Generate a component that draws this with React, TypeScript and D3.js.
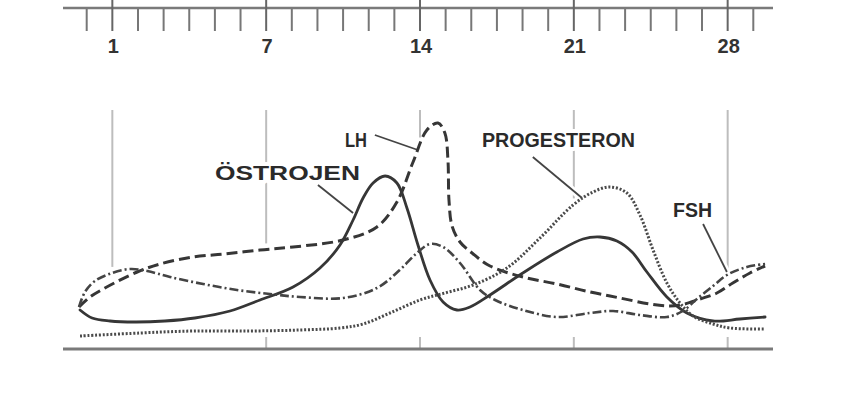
import React from 'react';
import * as d3 from 'd3';

// Ruler (tick index units) and labels
const rulerTicks = d3.range(0, 27);
const majorTicks = [1, 7, 13, 19, 25];
const majorLabels = ['1', '7', '14', '21', '28'];
const gridBottomTick = [false, true, true, true, true];

// Series: [ruler position, level]
const ostrojen: [number, number][] = [
  [-0.26, 39], [0.21, 31], [0.91, 28], [1.88, 27], [3.05, 28], [4.22, 31], [5.59, 38],
  [6.76, 49], [8.05, 62], [9.1, 81], [9.88, 104], [10.39, 129], [10.78, 151], [11.17, 166],
  [11.64, 173], [12.1, 166], [12.49, 141], [12.92, 104], [13.39, 69], [13.9, 47], [14.44, 39],
  [14.95, 42], [15.73, 54], [17.01, 76], [18.34, 97], [19.36, 110], [20.02, 112], [20.68, 108],
  [21.27, 97], [21.85, 77], [22.63, 52], [23.41, 36], [24.43, 28], [25.48, 30], [26.46, 32],
];
const lh: [number, number][] = [
  [-0.3, 42], [0.13, 52], [0.64, 60], [1.97, 77], [2.86, 85], [4.15, 92], [5.4, 95],
  [6.76, 99], [8.05, 102], [10.0, 109], [11.32, 122], [12.1, 147], [12.73, 187], [13.27, 219],
  [13.7, 226], [13.97, 216], [14.09, 189], [14.13, 149], [14.25, 123], [14.56, 107], [15.03, 96],
  [15.73, 83], [17.01, 72], [18.34, 65], [19.63, 57], [20.8, 51], [21.97, 45], [22.75, 43],
  [23.33, 45], [23.92, 50], [24.58, 56], [25.2, 66], [25.87, 76], [26.46, 83],
];
const fsh: [number, number][] = [
  [-0.3, 42], [-0.07, 57], [0.32, 68], [0.99, 76], [1.69, 80], [2.36, 78], [3.25, 72],
  [4.54, 65], [5.86, 59], [7.15, 55], [8.32, 52], [10.0, 51], [11.32, 61], [12.21, 79],
  [12.88, 96], [13.39, 105], [13.9, 102], [14.56, 86], [15.34, 59], [15.93, 49], [17.01, 39],
  [18.34, 32], [19.63, 36], [20.53, 38], [21.58, 34], [22.63, 32], [23.25, 38], [23.8, 50],
  [24.43, 63], [24.97, 74], [25.75, 82], [26.46, 85],
];
const progesteron: [number, number][] = [
  [-0.26, 13], [2.08, 16], [4.15, 18], [6.37, 18], [8.32, 19], [9.88, 21], [10.78, 25],
  [11.83, 36], [13.0, 49], [13.97, 56], [15.07, 64], [16.39, 81], [17.68, 111], [18.97, 144],
  [19.75, 157], [20.41, 162], [21.07, 156], [21.58, 134], [22.09, 99], [22.63, 66], [23.14, 46],
  [23.65, 33], [24.43, 25], [25.09, 21], [26.46, 20],
];

const labelNames = ['LH', 'ÖSTROJEN', 'PROGESTERON', 'FSH'];

const W = 860;
const H = 412;
const x = d3.scaleLinear().domain([0, 26]).range([86.7, 753.3]);
const y = d3.scaleLinear().domain([0, 240]).range([349, 109]);

const curve = d3.curveCatmullRom.alpha(0.5);
const line = d3
  .line<[number, number]>()
  .x((d) => x(d[0]))
  .y((d) => y(d[1]))
  .curve(curve);

// Flatten the same curve into a polyline to find where grid lines meet the curves
class Sampler {
  pts: [number, number][] = [];
  cx = 0;
  cy = 0;
  moveTo(a: number, b: number) {
    this.pts.push([a, b]);
    this.cx = a;
    this.cy = b;
  }
  lineTo(a: number, b: number) {
    this.pts.push([a, b]);
    this.cx = a;
    this.cy = b;
  }
  bezierCurveTo(x1: number, y1: number, x2: number, y2: number, a: number, b: number) {
    const x0 = this.cx, y0 = this.cy;
    for (let i = 1; i <= 30; i++) {
      const t = i / 30, u = 1 - t;
      this.pts.push([
        u * u * u * x0 + 3 * u * u * t * x1 + 3 * u * t * t * x2 + t * t * t * a,
        u * u * u * y0 + 3 * u * u * t * y1 + 3 * u * t * t * y2 + t * t * t * b,
      ]);
    }
    this.cx = a;
    this.cy = b;
  }
  closePath() {}
}

function polyline(data: [number, number][]) {
  const s = new Sampler();
  d3.line<[number, number]>()
    .x((d) => x(d[0]))
    .y((d) => y(d[1]))
    .curve(curve)
    .context(s as any)(data);
  return s.pts;
}

const INK = '#363636';
const GRID = '#bdbdbd';
const RULE = '#7a7a7a';
const FONT = '"Liberation Sans", Arial, Helvetica, sans-serif';

export default function App() {
  const series = [
    { data: ostrojen, dash: undefined, width: 2.8, color: INK, cap: 'round' },
    { data: lh, dash: '11 5', width: 3, color: INK, cap: 'butt' },
    { data: fsh, dash: '9 3 2 3', width: 2.6, color: '#444', cap: 'butt' },
    { data: progesteron, dash: '2 1.8', width: 3, color: '#4a4a4a', cap: 'butt' },
  ];

  const polys = series.map((s) => polyline(s.data));
  const segs = majorTicks.map((t, i) => {
    const X = x(t);
    const ys: number[] = [];
    polys.forEach((pts) => {
      for (let k = 1; k < pts.length; k++) {
        const p = pts[k - 1], q = pts[k];
        if ((p[0] - X) * (q[0] - X) <= 0 && p[0] !== q[0]) {
          const u = (X - p[0]) / (q[0] - p[0]);
          ys.push(p[1] + u * (q[1] - p[1]));
        }
      }
    });
    const mn = ys.length ? Math.min(...ys) : y(0);
    return {
      x: X,
      top: [110, mn - 6] as [number, number],
      bottom: gridBottomTick[i] ? ([y(0) - 12, y(0)] as [number, number]) : null,
    };
  });

  // annotation anchors in data units
  const ann = [
    { name: labelNames[0], tx: 10.5, tv: 202, len: 22, l: [11.24, 214, 12.92, 199] },
    { name: labelNames[1], tx: 7.83, tv: 169, len: 145, l: [9.02, 164, 10.39, 136] },
    { name: labelNames[2], tx: 18.4, tv: 202, len: 153, l: [17.4, 192, 19.32, 151] },
    { name: labelNames[3], tx: 23.63, tv: 132, len: 39, l: [24.04, 125, 24.97, 77] },
  ];

  return (
    <svg
      width={W}
      height={H}
      viewBox={`0 0 ${W} ${H}`}
      style={{ position: 'absolute', left: 0, top: 0, background: '#fff' }}
    >
      <rect width={W} height={H} fill="#fff" />
      {/* ruler */}
      <line x1={63} x2={773} y1={8} y2={8} stroke={RULE} strokeWidth={2.5} />
      {rulerTicks.map((t) => {
        const major = majorTicks.includes(t);
        return (
          <line
            key={t}
            x1={x(t)}
            x2={x(t)}
            y1={major ? 0 : 9}
            y2={31}
            stroke={major ? '#666' : '#777'}
            strokeWidth={2}
          />
        );
      })}
      {majorTicks.map((t, i) => (
        <text
          key={t}
          x={x(t) + 1}
          y={53}
          textAnchor="middle"
          fontFamily={FONT}
          fontWeight="bold"
          fontSize={20}
          fill="#333"
        >
          {majorLabels[i]}
        </text>
      ))}
      {/* grid */}
      {segs.map((s, i) => (
        <g key={i}>
          <line x1={s.x} x2={s.x} y1={s.top[0]} y2={s.top[1]} stroke={GRID} strokeWidth={2} />
          {s.bottom && (
            <line x1={s.x} x2={s.x} y1={s.bottom[0]} y2={s.bottom[1]} stroke={GRID} strokeWidth={2} />
          )}
        </g>
      ))}
      {/* baseline */}
      <line x1={63} x2={773} y1={y(0)} y2={y(0)} stroke={RULE} strokeWidth={3} />
      {/* labels with halo */}
      {ann.map((a) => (
        <text
          key={a.name}
          x={x(a.tx)}
          y={y(a.tv)}
          textAnchor="middle"
          fontFamily={FONT}
          fontWeight="bold"
          fontSize={21}
          fill="#2a2a2a"
          stroke="#fff"
          strokeWidth={8}
          strokeLinejoin="round"
          paintOrder="stroke"
          textLength={a.len}
          lengthAdjust="spacingAndGlyphs"
        >
          {a.name}
        </text>
      ))}
      {ann.map((a) => (
        <line
          key={a.name + 'h'}
          x1={x(a.l[0])}
          y1={y(a.l[1])}
          x2={x(a.l[2])}
          y2={y(a.l[3])}
          stroke="#fff"
          strokeWidth={7}
        />
      ))}
      {ann.map((a) => (
        <line
          key={a.name + 'l'}
          x1={x(a.l[0])}
          y1={y(a.l[1])}
          x2={x(a.l[2])}
          y2={y(a.l[3])}
          stroke="#444"
          strokeWidth={1.8}
        />
      ))}
      {/* curves */}
      {series.map((s, i) => (
        <path
          key={i}
          d={line(s.data) || ''}
          fill="none"
          stroke={s.color}
          strokeWidth={s.width}
          strokeDasharray={s.dash}
          strokeLinecap={s.cap as any}
          strokeLinejoin="round"
        />
      ))}
    </svg>
  );
}
